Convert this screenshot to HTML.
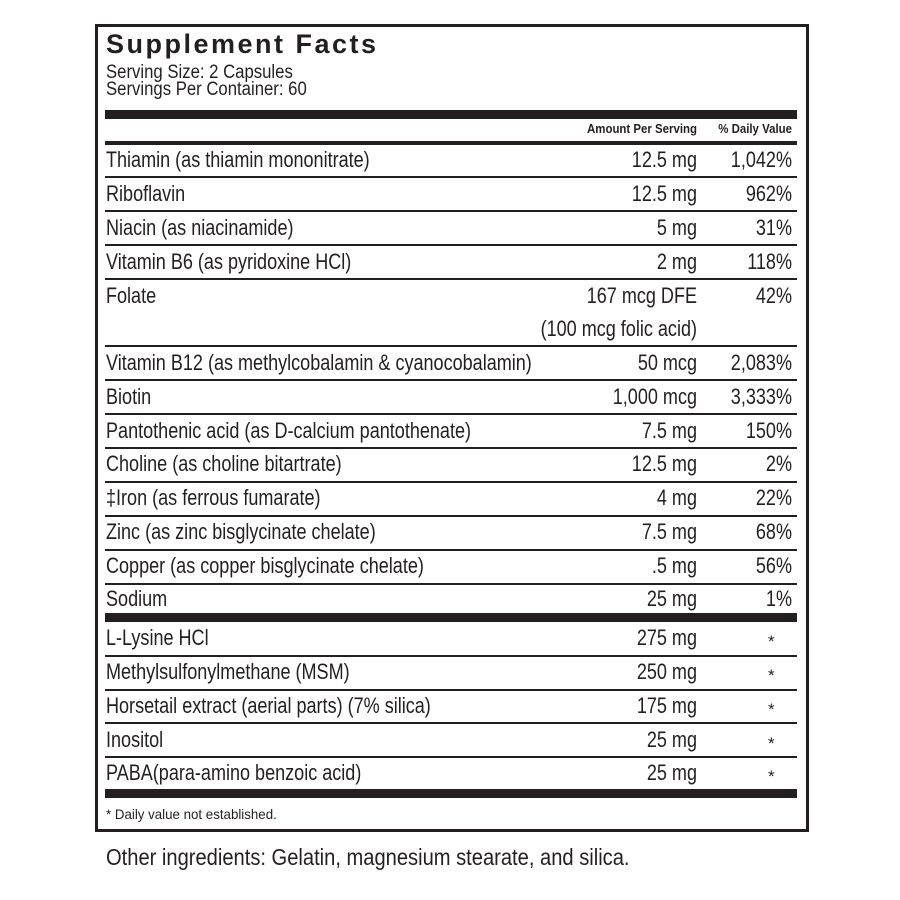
<!DOCTYPE html>
<html><head><style>
body{margin:0;background:#fff;width:900px;height:900px;position:relative;font-family:"Liberation Sans",sans-serif;color:#231f20;overflow:hidden}
.box{position:absolute;left:95px;top:24px;width:708px;height:802px;border:3px solid #231f20}
.t{position:absolute;font-size:22px;line-height:22px;white-space:nowrap;transform:scaleX(0.82);transform-origin:left top}
.r{text-align:right;transform-origin:right top}
.hl{position:absolute;left:105px;width:692px;background:#231f20}
</style></head><body>
<div class="box"></div>
<div class="t" style="left:106px;top:31px;font-weight:bold;font-size:27px;line-height:27px;letter-spacing:2.5px;transform:none">Supplement Facts</div>
<div class="t" style="left:106px;top:63px;font-size:19px;line-height:19px;transform:scaleX(0.88)">Serving Size: 2 Capsules</div>
<div class="t" style="left:106px;top:80px;font-size:19px;line-height:19px;transform:scaleX(0.88)">Servings Per Container: 60</div>
<div class="hl" style="top:110px;height:9px"></div>
<div class="t r" style="left:547px;width:150px;top:122px;font-size:13px;line-height:13px;font-weight:bold;transform:scaleX(0.88)">Amount Per Serving</div>
<div class="t r" style="left:692px;width:100px;top:122px;font-size:13px;line-height:13px;font-weight:bold;transform:scaleX(0.88)">% Daily Value</div>
<div class="hl" style="top:141px;height:4px"></div>
<div id="rows"></div>
<script>
var rows=[
["Thiamin (as thiamin mononitrate)","12.5 mg","1,042%",149],
["Riboflavin","12.5 mg","962%",183],
["Niacin (as niacinamide)","5 mg","31%",217],
["Vitamin B6 (as pyridoxine HCl)","2 mg","118%",251],
["Folate","167 mcg DFE","42%",285],
["","(100 mcg folic acid)","",318],
["Vitamin B12 (as methylcobalamin & cyanocobalamin)","50 mcg","2,083%",352],
["Biotin","1,000 mcg","3,333%",386],
["Pantothenic acid (as D-calcium pantothenate)","7.5 mg","150%",420],
["Choline (as choline bitartrate)","12.5 mg","2%",453],
["\u2021Iron (as ferrous fumarate)","4 mg","22%",487],
["Zinc (as zinc bisglycinate chelate)","7.5 mg","68%",521],
["Copper (as copper bisglycinate chelate)",".5 mg","56%",555],
["Sodium","25 mg","1%",588],
["L-Lysine HCl","275 mg","*",627],
["Methylsulfonylmethane (MSM)","250 mg","*",661],
["Horsetail extract (aerial parts) (7% silica)","175 mg","*",695],
["Inositol","25 mg","*",729],
["PABA(para-amino benzoic acid)","25 mg","*",762]];
var h="";
rows.forEach(function(r){
h+='<div class="t" style="left:106px;top:'+r[3]+'px">'+r[0].replace("&","&amp;")+'</div>';
h+='<div class="t r" style="left:450px;width:247px;top:'+r[3]+'px">'+r[1]+'</div>';
if(r[2]=="*")h+='<div class="t" style="left:768px;top:'+(r[3]+4)+'px;font-size:17px;transform:none">*</div>';
else h+='<div class="t r" style="left:662px;width:130px;top:'+r[3]+'px">'+r[2]+'</div>';
});
[176,210,244,278,345,379,413,447,481,515,549,583,655,689,722,756].forEach(function(y){h+='<div class="hl" style="top:'+y+'px;height:2px"></div>';});
h+='<div class="hl" style="top:613px;height:9px"></div><div class="hl" style="top:789px;height:9px"></div>';
document.getElementById("rows").innerHTML=h;
</script>
<div class="t" style="left:106px;top:807px;font-size:14px;line-height:14px;transform:scaleX(0.95)">* Daily value not established.</div>
<div class="t" style="left:106px;top:846px;font-size:23px;line-height:23px;transform:scaleX(0.875)">Other ingredients: Gelatin, magnesium stearate, and silica.</div>
</body></html>
